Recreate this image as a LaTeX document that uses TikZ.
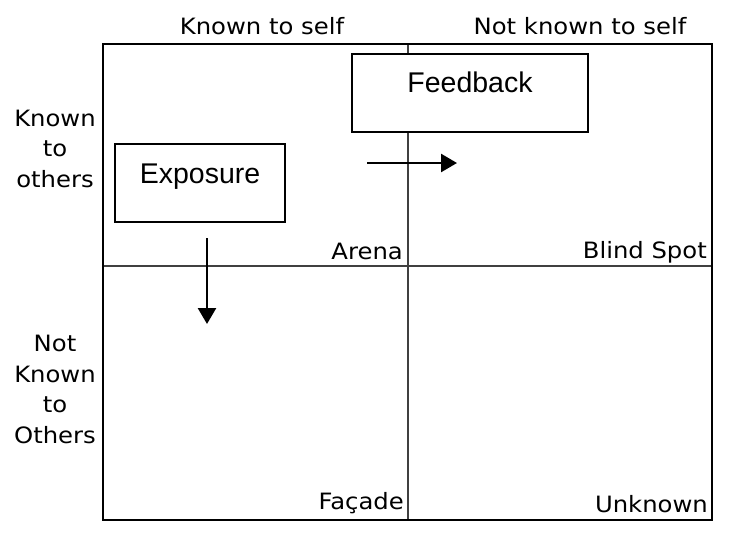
\documentclass[tikz,border=0pt]{standalone}
\usepackage{fontspec}
\setmainfont{Liberation Sans}
\newfontfamily\vfont[FakeStretch=1.08]{DejaVu Sans}
\usetikzlibrary{arrows.meta}
\tikzset{
  grid/.style={draw=black!75, line width=1.2pt},
  frame/.style={draw=black, line width=1.6pt},
  winbox/.style={draw=black, line width=2pt, fill=white, inner sep=0pt, font=\fontsize{28.5}{32}\selectfont},
  lab/.style={font=\vfont\fontsize{22.5}{30.5}\selectfont, inner sep=0pt, align=center},
  flow/.style={draw=black, line width=2.6pt, -{Triangle[length=16pt,width=18pt]}}
}
\begin{document}
\begin{tikzpicture}[x=1pt,y=-1pt]
\useasboundingbox (0,0) rectangle (744,533);
% grid
\coordinate (tl) at (103,44);
\coordinate (br) at (712,520);
\coordinate (vt) at (408,44);
\coordinate (vb) at (408,520);
\coordinate (hl) at (103,266);
\coordinate (hr) at (712,266);
\draw[grid] (vt) -- (vb);
\draw[grid] (hl) -- (hr);
\draw[frame] (tl) rectangle (br);
% headings
\node[lab, anchor=base] (kself) at (262,34) {Known to self};
\node[lab, anchor=base] (nkself) at (580,34) {Not known to self};
\node[lab, anchor=base] (kothers) at (55,187) {Known\\to\\others};
\node[lab, anchor=base] (nkothers) at (55,443) {Not\\Known\\to\\Others};
% quadrant names
\node[lab, anchor=base east] (arena) at (403,259) {Arena};
\node[lab, anchor=base east] (blind) at (707,258) {Blind Spot};
\node[lab, anchor=base east] (facade) at (404,509) {Façade};
\node[lab, anchor=base east] (unknown) at (708,512) {Unknown};
% boxes
\node[winbox, minimum width=236pt, text height=38pt, text depth=40pt] (fb) at (470,93) {Feedback};
\node[winbox, minimum width=170pt, text height=39pt, text depth=39pt] (ex) at (200,183) {Exposure};
% arrows
\coordinate (a1s) at (367,163);
\coordinate (a1e) at (457,163);
\coordinate (a2s) at (207,238);
\coordinate (a2e) at (207,324);
\draw[flow] (a1s) -- (a1e);
\draw[flow] (a2s) -- (a2e);
\end{tikzpicture}
\end{document}
